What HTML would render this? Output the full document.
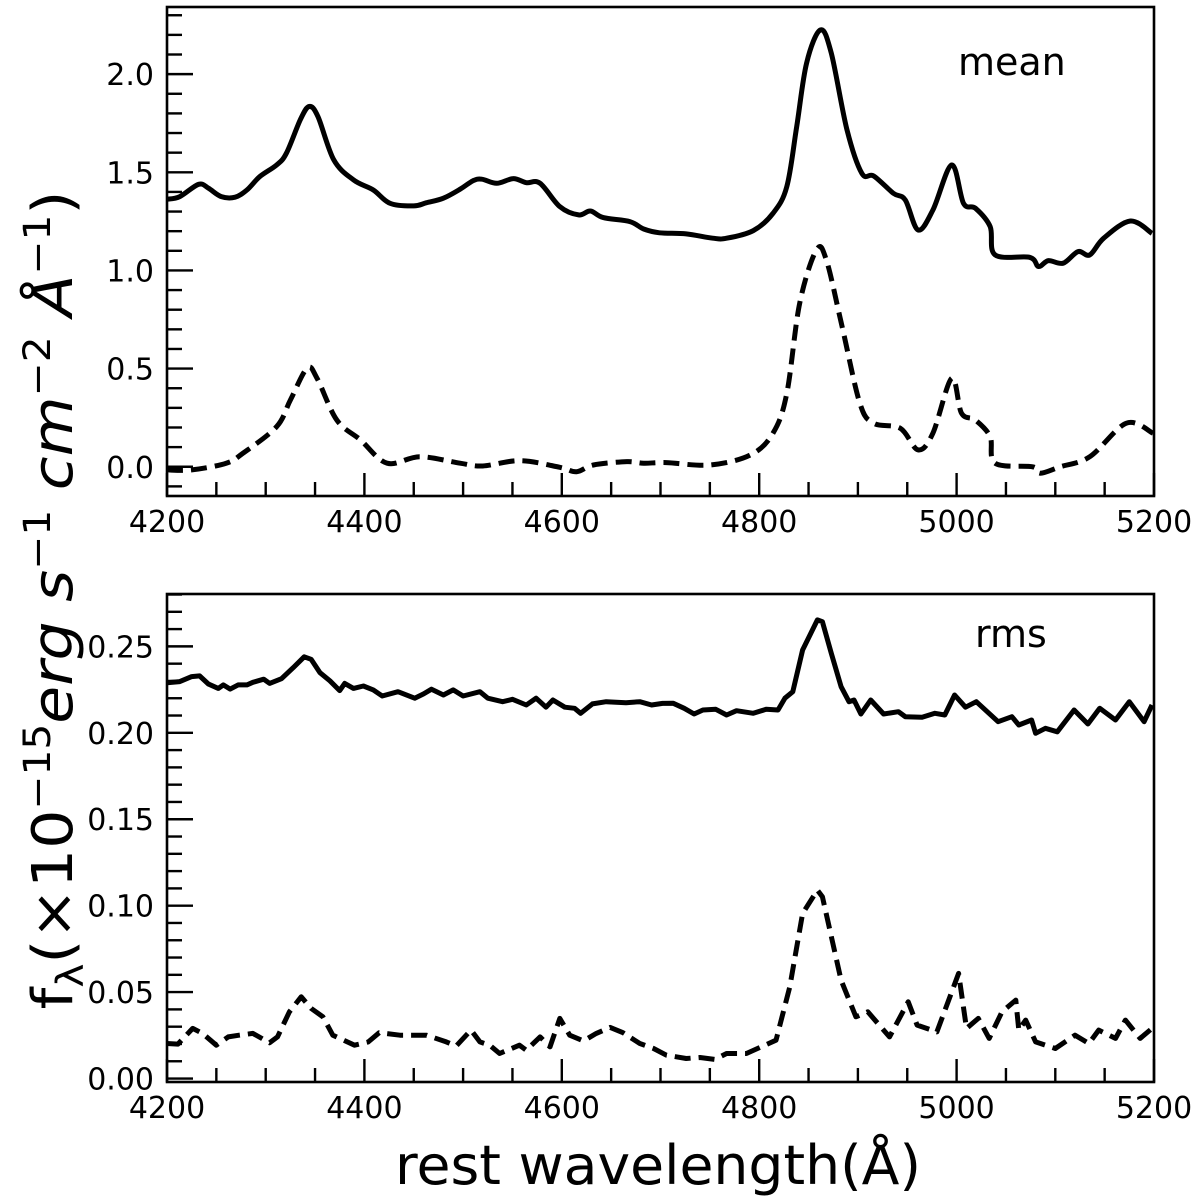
<!DOCTYPE html>
<html><head><meta charset="utf-8"><style>
html,body{margin:0;padding:0;background:#fff;}
svg{display:block;font-family:"DejaVu Sans","Liberation Sans",sans-serif;}
</style></head><body>
<svg id="chart" width="1200" height="1203" viewBox="0 0 1200 1203" xmlns="http://www.w3.org/2000/svg">
<g id="top"></g>
<g id="bot"></g>
<text x="658" y="1184" font-size="54" text-anchor="middle" textLength="526" lengthAdjust="spacingAndGlyphs">rest wavelength(Å)</text>
<text transform="translate(72,600) rotate(-90) scale(1.1,1)" font-size="56" text-anchor="middle">f<tspan font-size="37" dy="11">λ</tspan><tspan dy="-11">(×10</tspan><tspan font-size="37" dy="-22">−15</tspan><tspan font-style="italic" dy="22">erg s</tspan><tspan font-size="37" dy="-22">−1</tspan><tspan font-style="italic" dy="22"> cm</tspan><tspan font-size="37" dy="-22">−2</tspan><tspan font-style="italic" dy="22"> Å</tspan><tspan font-size="37" dy="-22">−1</tspan><tspan dy="22">)</tspan></text>
</svg>
<script>
const meanSolidX=[4200,4213,4232,4242,4255,4269,4281,4294,4311,4321,4335,4344,4353,4369,4389,4409,4426,4450,4463,4480,4497,4510,4519,4534,4551,4564,4578,4598,4617,4629,4642,4669,4683,4699,4726,4753,4767,4794,4814,4828,4838,4848,4862,4873,4889,4904,4916,4936,4948,4961,4976,4995,5007,5019,5034,5039,5074,5083,5093,5108,5123,5135,5149,5176,5198];
const meanSolidY=[1.363,1.376,1.439,1.419,1.376,1.373,1.410,1.478,1.537,1.597,1.767,1.835,1.783,1.563,1.461,1.410,1.342,1.329,1.345,1.368,1.414,1.457,1.465,1.444,1.468,1.447,1.444,1.325,1.283,1.303,1.269,1.249,1.211,1.192,1.186,1.164,1.164,1.203,1.291,1.427,1.733,2.056,2.225,2.107,1.716,1.495,1.481,1.393,1.359,1.206,1.308,1.537,1.342,1.317,1.223,1.079,1.067,1.020,1.050,1.037,1.096,1.079,1.164,1.252,1.189];
const meanDashX=[4200,4225,4260,4277,4311,4325,4342,4352,4372,4396,4423,4456,4497,4520,4558,4598,4615,4632,4666,4683,4706,4750,4791,4814,4828,4841,4858,4868,4884,4902,4916,4943,4961,4976,4995,5005,5019,5034,5039,5077,5085,5105,5135,5172,5199];
const meanDashY=[-0.016,-0.016,0.018,0.069,0.204,0.340,0.502,0.451,0.238,0.137,0.018,0.051,0.018,0.004,0.031,-0.003,-0.025,0.009,0.026,0.018,0.021,0.009,0.060,0.171,0.374,0.833,1.104,1.054,0.714,0.323,0.222,0.196,0.086,0.171,0.451,0.273,0.238,0.153,0.018,0.0,-0.033,0.0,0.051,0.222,0.171];
const rmsSolidX=[4200,4213,4225,4233,4242,4252,4257,4264,4272,4281,4287,4298,4304,4316,4328,4339,4346,4355,4365,4375,4380,4389,4399,4409,4418,4434,4451,4460,4468,4480,4490,4500,4517,4525,4540,4550,4564,4574,4584,4591,4603,4613,4619,4631,4645,4665,4679,4691,4702,4713,4724,4734,4743,4756,4767,4777,4794,4807,4819,4826,4834,4844,4859,4864,4873,4883,4891,4896,4903,4913,4926,4941,4948,4965,4978,4988,4998,5009,5020,5042,5056,5063,5076,5080,5090,5102,5119,5133,5145,5161,5175,5190,5198];
const rmsSolidY=[0.2290,0.2296,0.2325,0.2329,0.2282,0.2257,0.2277,0.2253,0.2277,0.2277,0.2292,0.2310,0.2286,0.2313,0.2377,0.2440,0.2425,0.2348,0.2301,0.2244,0.2286,0.2257,0.2271,0.2248,0.2213,0.2238,0.2200,0.2225,0.2252,0.2219,0.2248,0.2213,0.2238,0.2200,0.2180,0.2194,0.2161,0.2200,0.2148,0.2190,0.2148,0.2142,0.2113,0.2167,0.2180,0.2174,0.2180,0.2161,0.2170,0.2171,0.2142,0.2109,0.2132,0.2136,0.2103,0.2128,0.2113,0.2136,0.2132,0.2200,0.2238,0.2479,0.2653,0.2643,0.2460,0.2267,0.2180,0.2190,0.2109,0.2190,0.2109,0.2122,0.2093,0.2090,0.2113,0.2103,0.2219,0.2148,0.2180,0.2064,0.2093,0.2045,0.2074,0.1997,0.2026,0.2006,0.2132,0.2051,0.2142,0.2074,0.2180,0.2064,0.2161];
const rmsDashX=[4200,4211,4226,4236,4250,4262,4273,4287,4304,4312,4324,4336,4346,4358,4368,4390,4404,4415,4436,4449,4463,4483,4493,4508,4517,4527,4537,4557,4564,4578,4588,4598,4608,4622,4635,4649,4662,4679,4693,4706,4726,4740,4755,4767,4787,4817,4831,4844,4859,4864,4883,4898,4910,4932,4951,4960,4980,4992,5002,5010,5022,5033,5046,5060,5063,5070,5080,5100,5120,5134,5144,5161,5171,5186,5198];
const rmsDashY=[0.0203,0.0199,0.0290,0.0261,0.0193,0.0241,0.0251,0.0261,0.0207,0.0241,0.0386,0.0473,0.0406,0.0357,0.0251,0.0193,0.0212,0.0265,0.0251,0.0251,0.0251,0.0212,0.0188,0.0280,0.0212,0.0193,0.0145,0.0193,0.0164,0.0241,0.0183,0.0348,0.0251,0.0218,0.0261,0.0296,0.0265,0.0203,0.0174,0.0135,0.0116,0.0122,0.0111,0.0145,0.0145,0.0222,0.0531,0.0955,0.1090,0.1052,0.0569,0.0357,0.0386,0.0241,0.0444,0.0309,0.0270,0.0454,0.0608,0.0290,0.0348,0.0232,0.0386,0.0454,0.0280,0.0338,0.0212,0.0174,0.0251,0.0203,0.0280,0.0232,0.0338,0.0232,0.0290];
const xTicks=[4200,4400,4600,4800,5000,5200];
const topYTicks=[0.0,0.5,1.0,1.5,2.0];
const topYLabels=["0.0","0.5","1.0","1.5","2.0"];
const botYTicks=[0.00,0.05,0.10,0.15,0.20,0.25];
const botYLabels=["0.00","0.05","0.10","0.15","0.20","0.25"];

const NS="http://www.w3.org/2000/svg";
const L=167,R=1154;
function mk(tag,attrs,parent){const e=document.createElementNS(NS,tag);for(const k in attrs)e.setAttribute(k,attrs[k]);parent.appendChild(e);return e;}
function smoothPath(P){
  let d='M'+P[0][0].toFixed(1)+' '+P[0][1].toFixed(1);
  for(let i=0;i<P.length-1;i++){
    const p0=P[Math.max(0,i-1)],p1=P[i],p2=P[i+1],p3=P[Math.min(P.length-1,i+2)];
    const c1x=p1[0]+(p2[0]-p0[0])/6,c1y=p1[1]+(p2[1]-p0[1])/6;
    const c2x=p2[0]-(p3[0]-p1[0])/6,c2y=p2[1]-(p3[1]-p1[1])/6;
    d+=' C'+c1x.toFixed(1)+' '+c1y.toFixed(1)+' '+c2x.toFixed(1)+' '+c2y.toFixed(1)+' '+p2[0].toFixed(1)+' '+p2[1].toFixed(1);
  }
  return d;
}
function panel(g,top,bottom,ymin,ymax,yt,yl,minorStep,series,label,labelX,labelY,name){
  const sx=v=>L+(v-4200)/1000*(R-L);
  const sy=v=>bottom-(v-ymin)/(ymax-ymin)*(bottom-top);
  const clip=mk('clipPath',{id:'c'+name},g);
  mk('rect',{x:L,y:top,width:R-L,height:bottom-top},clip);
  for(let w=4200;w<=5200;w+=50){
    const major=(w%200===0);const x=sx(w);
    const t=mk('line',{x1:x,x2:x,y1:bottom,y2:bottom-(major?23:14),stroke:'#000','stroke-width':2.4},g);
    
    
  }
  xTicks.forEach(w=>{
    const t=mk('text',{x:sx(w),y:bottom+36,'font-size':30,'text-anchor':'middle'},g);
    t.textContent=String(w);
    
    
  });
  const n0=Math.ceil(ymin/minorStep-1e-6),n1=Math.floor(ymax/minorStep+1e-6);
  for(let i=n0;i<=n1;i++){
    const v=i*minorStep;const major=yt.some(m=>Math.abs(m-v)<minorStep/10);
    const t=mk('line',{x1:L,x2:L+(major?26:15),y1:sy(v),y2:sy(v),stroke:'#000','stroke-width':2.4},g);
    
    
  }
  yt.forEach((v,i)=>{
    const t=mk('text',{x:154,y:sy(v)+11,'font-size':30,'text-anchor':'end'},g);
    t.textContent=yl[i];
    
    
  });
  series.forEach(s=>{
    const pts=s.x.map((w,i)=>[sx(w),sy(s.y[i])]);
    const d=s.smooth?smoothPath(pts):pts.map((p,i)=>(i?'L':'M')+p[0].toFixed(1)+' '+p[1].toFixed(1)).join(' ');
    const p=mk('path',{d:d,fill:'none',stroke:'#000','stroke-width':5,'stroke-linejoin':'round','clip-path':'url(#c'+name+')'},g);
    if(s.dash)p.setAttribute('stroke-dasharray','16 8');
    
    
  });
  const b=mk('rect',{x:L,y:top,width:R-L,height:bottom-top,fill:'none',stroke:'#000','stroke-width':2.6},g);
  
  
  const lt=mk('text',{x:labelX,y:labelY,'font-size':38},g);
  lt.textContent=label;
  
  
}
panel(document.getElementById('top'),7,496,-0.149,2.342,topYTicks,topYLabels,0.1,
  [{x:meanSolidX,y:meanSolidY,dash:false,smooth:true,name:'mean-solid-line'},{x:meanDashX,y:meanDashY,dash:true,smooth:true,name:'mean-dashed-line'}],'mean',958,75,'t');
panel(document.getElementById('bot'),594,1082,-0.002,0.2803,botYTicks,botYLabels,0.01,
  [{x:rmsSolidX,y:rmsSolidY,dash:false,smooth:false,name:'rms-solid-line'},{x:rmsDashX,y:rmsDashY,dash:true,smooth:false,name:'rms-dashed-line'}],'rms',975,647,'b');
</script>
</body></html>
